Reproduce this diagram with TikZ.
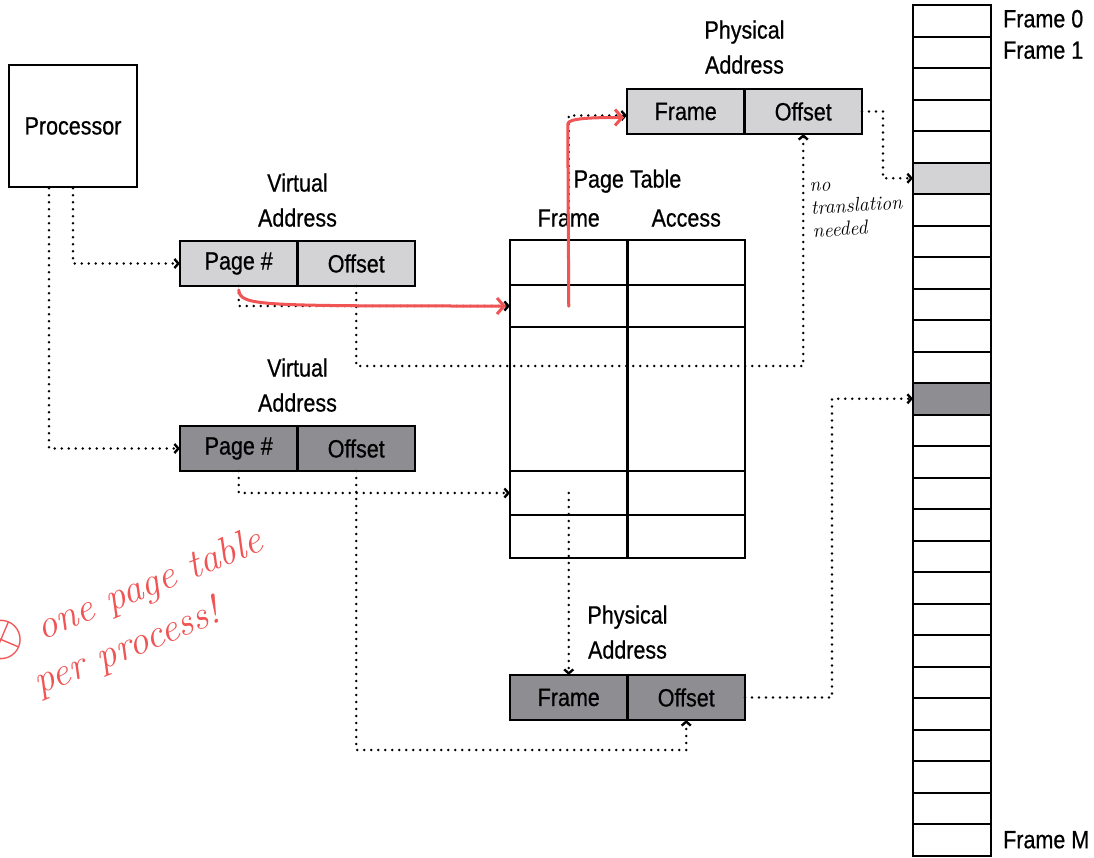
\documentclass[tikz,border=0pt]{standalone}
\usepackage{graphicx}
\usepackage{fontspec}
\setsansfont{Liberation Sans}[FakeStretch=0.86, FakeBold=0.6]
\usetikzlibrary{arrows.meta,positioning}
\definecolor{lightcell}{RGB}{211,211,213}
\definecolor{darkcell}{RGB}{142,142,146}
\definecolor{redink}{RGB}{240,84,84}

\begin{document}
\begin{tikzpicture}[x=1pt, y=-1pt,
  txt/.style={font=\sffamily\fontsize{25}{35}\selectfont, inner sep=0pt, align=center},
  cell/.style={txt, draw, line width=2.4pt, outer sep=0pt, minimum width=117.5pt, minimum height=45pt},
  ptcell/.style={draw, line width=2.2pt, outer sep=0pt, minimum width=117.5pt, inner sep=0pt},
  memcell/.style={draw, line width=2pt, outer sep=0pt, minimum width=78pt, minimum height=31.5pt, inner sep=0pt},
  dots/.style={line width=2.8pt, dash pattern=on 0pt off 7pt, line cap=round,
    -{Straight Barb[length=4pt, width=9pt, line width=2.4pt]}},
  redpen/.style={draw=redink, line width=3pt, line cap=round,
    -{Straight Barb[length=7pt, width=16pt]}},
  hand/.style={font=\rmfamily\itshape\fontsize{20}{23}\selectfont, inner sep=0pt, align=left}]
  \useasboundingbox (0,0) rectangle (1094,857);

  \node[txt, draw, line width=2.4pt, minimum width=128pt, minimum height=122pt] (proc) at (73,126) {Processor};

  % virtual addresses
  \node[cell, fill=lightcell, anchor=north west] (va1p) at (180,241) {Page \#};
  \node[cell, fill=lightcell, right=0pt of va1p] (va1o) {Offset};
  \node[txt, above=14pt of va1p.north east] (va1lbl) {Virtual\\Address};
  \node[cell, fill=darkcell, anchor=north west] (va2p) at (180,426) {Page \#};
  \node[cell, fill=darkcell, right=0pt of va2p] (va2o) {Offset};
  \node[txt, above=14pt of va2p.north east] (va2lbl) {Virtual\\Address};

  % page table
  \node[ptcell, minimum height=45pt, anchor=north west] (f1) at (510,240) {};
  \node[ptcell, minimum height=42pt, below=0pt of f1] (f2) {};
  \node[ptcell, minimum height=144pt, below=0pt of f2] (f3) {};
  \node[ptcell, minimum height=44pt, below=0pt of f3] (f4) {};
  \node[ptcell, minimum height=43pt, below=0pt of f4] (f5) {};
  \foreach \r/\h in {1/45,2/42,3/144,4/44,5/43}
    \node[ptcell, minimum height=\h pt, right=0pt of f\r] (a\r) {};
  \node[txt, above=13pt of f1] (hframe) {Frame};
  \node[txt, above=13pt of a1] (haccess) {Access};
  \node[txt, above=47pt of f1.north east] (ptlbl) {Page Table};

  % physical addresses
  \node[cell, fill=lightcell, anchor=north west] (pa1f) at (627,89) {Frame};
  \node[cell, fill=lightcell, right=0pt of pa1f] (pa1o) {Offset};
  \node[txt, above=15pt of pa1f.north east] (pa1lbl) {Physical\\Address};
  \node[cell, fill=darkcell, anchor=north west] (pa2f) at (510,675) {Frame};
  \node[cell, fill=darkcell, right=0pt of pa2f] (pa2o) {Offset};
  \node[txt, above=16pt of pa2f.north east] (pa2lbl) {Physical\\Address};

  % memory
  \foreach \i in {0,...,26} {
    \def\c{white}
    \ifnum\i=5 \def\c{lightcell}\fi
    \ifnum\i=12 \def\c{darkcell}\fi
    \node[memcell, fill=\c] (m\i) at (952,20.75+31.5*\i) {};
  }
  \node[txt, right=12pt of m0, yshift=2pt] (fr0) {Frame 0};
  \node[txt, right=12pt of m1, yshift=2pt] (fr1) {Frame 1};
  \node[txt, right=12pt of m26] (frm) {Frame M};

  \draw[dots] (proc.south) |- (va1p.west);
  \draw[dots] ([xshift=-24pt]proc.south) |- (va2p.west);
  \draw[dots] (va1p.south) |- (f2.west);
  \draw[dots] (va1o.south) -- ++(0,80) -| (pa1o.south);
  \draw[dots] (f2.center) |- ([yshift=-4pt]pa1f.west);
  \draw[dots] (pa1o.east) -- ++(21,0) |- (m5.west);
  \draw[dots] (va2p.south) |- (f4.west);
  \draw[dots] (f4.center) -- (pa2f.north);
  \draw[dots] (va2o.south) -- ++(0,279) -| (pa2o.south);
  \draw[dots] (pa2o.east) -- ++(87,0) |- (m12.west);

  % scribbles
  \draw[redpen] ([yshift=-4pt]va1p.south) .. controls +(2,16) and +(-250,0) .. ([xshift=-4pt]f2.west);
  \draw[redpen] (f2.center) -- ++(-1,-182) .. controls +(0,-6) and +(-30,0) .. ([xshift=-3pt,yshift=-6pt]pa1f.west);
  \node[hand, anchor=north west, rotate=4] (note) at (809,183) {no\\translation\\needed};
  \node[hand, text=redink, font=\rmfamily\itshape\fontsize{40}{50}\selectfont, rotate=22] (remark) at (130,617)
    {\scalebox{2.4}{$\otimes$} one page table\\\hspace*{38pt}per process!};
\end{tikzpicture}
\end{document}
